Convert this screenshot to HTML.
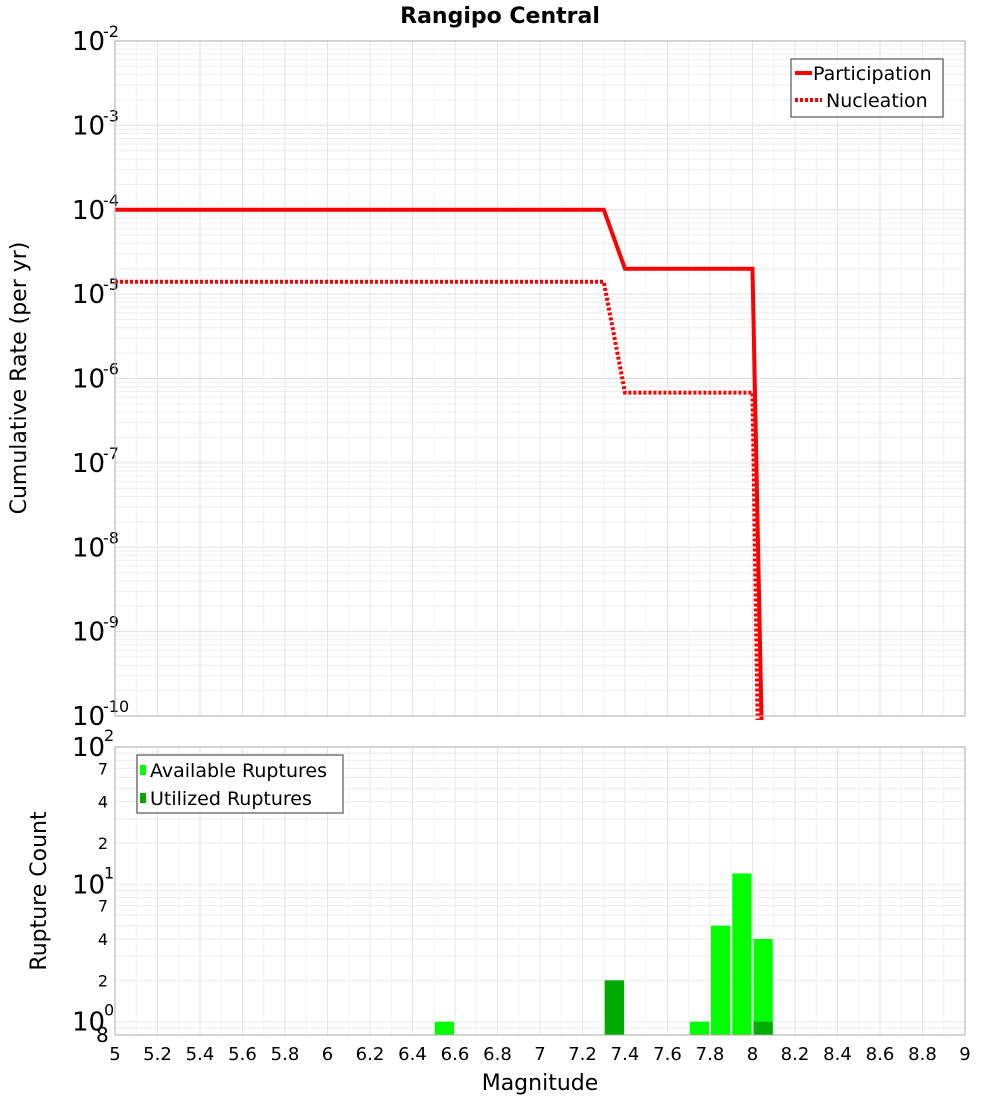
<!DOCTYPE html>
<html><head><meta charset="utf-8"><style>
body{margin:0;background:#fff;font-family:"Liberation Sans","DejaVu Sans",sans-serif}
svg text{font-family:"DejaVu Sans","Liberation Sans",sans-serif}
</style></head><body>
<svg id="c" width="1000" height="1100" xmlns="http://www.w3.org/2000/svg">
<text x="500" y="23" text-anchor="middle" font-size="22" font-weight="bold">Rangipo Central</text>
<g id="topg"></g>
<g id="botg"></g>
<text transform="translate(26,378) rotate(-90)" text-anchor="middle" font-size="22">Cumulative Rate (per yr)</text>
<text transform="translate(46,891) rotate(-90)" text-anchor="middle" font-size="22">Rupture Count</text>
<text x="540" y="1090" text-anchor="middle" font-size="22">Magnitude</text>
</svg>
<script>
const partMags=[5,7.3,7.4,8.0,8.05];
const partRates=[1e-4,1e-4,2e-5,2e-5,1e-11];
const nuclMags=[5,7.3,7.4,8.0,8.03];
const nuclRates=[1.4e-5,1.4e-5,6.8e-7,6.8e-7,1e-11];
const availMags=[6.55,7.35,7.75,7.85,7.95,8.05];
const availCounts=[1,2,1,5,12,4];
const usedMags=[7.35,8.05];
const usedCounts=[2,1];
const xTicks=[5,5.2,5.4,5.6,5.8,6,6.2,6.4,6.6,6.8,7,7.2,7.4,7.6,7.8,8,8.2,8.4,8.6,8.8,9];
const NS="http://www.w3.org/2000/svg";
const L=115,R=965,T1=41,B1=716,T2=747,B2=1035;
const X=m=>L+(m-5)/4*(R-L);
const Y1=v=>T1+(-2-Math.log10(v))/8*(B1-T1);
const lo2=Math.log10(0.8);
const Y2=v=>T2+(2-Math.log10(v))/(2-lo2)*(B2-T2);
function mk(p,t,a){const e=document.createElementNS(NS,t);for(const k in a)e.setAttribute(k,a[k]);p.appendChild(e);return e;}
const topG=document.getElementById('topg'),botG=document.getElementById('botg');
const defs=mk(document.getElementById('c'),'defs',{});
const cp=mk(defs,'clipPath',{id:'cl1'});mk(cp,'rect',{x:L,y:T1,width:R-L,height:B1-T1+4});
for(let d=-10;d<-2;d++)for(let k=1;k<10;k++){const y=Y1(k*Math.pow(10,d));const g=mk(topG,'line',{x1:L,x2:R,y1:y,y2:y,stroke:k==1?'#e0e0e0':'#eeeeee','stroke-width':1});}
for(let i=0;i<=40;i++){const x=X(5+i*0.1);const g=mk(topG,'line',{x1:x,x2:x,y1:T1,y2:B1,stroke:i%2?'#f2f2f2':'#e6e6e6'});}
for(let d=-1;d<2;d++)for(let k=1;k<10;k++){const v=k*Math.pow(10,d);if(v<0.8)continue;const y=Y2(v);const g=mk(botG,'line',{x1:L,x2:R,y1:y,y2:y,stroke:'#eaeaea'});}
for(let i=0;i<=40;i++){const x=X(5+i*0.1);const g=mk(botG,'line',{x1:x,x2:x,y1:T2,y2:B2,stroke:i%2?'#f2f2f2':'#e6e6e6'});}
for(let d=-10;d<=-2;d++){const y=Y1(Math.pow(10,d));const t=mk(topG,'text',{x:72,y:y+9,'font-size':26});t.textContent='10';const s=mk(topG,'text',{x:103,y:y-4,'font-size':16});s.textContent=String(d);}
for(let d=0;d<=2;d++){const y=Y2(Math.pow(10,d));const t=mk(botG,'text',{x:72,y:y+9,'font-size':26});t.textContent='10';const s=mk(botG,'text',{x:104,y:y-6,'font-size':16});s.textContent=String(d);}
[2,4,7,20,40,70].forEach(v=>{const t=mk(botG,'text',{x:108,y:Y2(v)+6,'font-size':16,'text-anchor':'end'});t.textContent=String(v<10?v:v/10);});
{const t=mk(botG,'text',{x:96,y:1042,'font-size':20});t.textContent='8';}
xTicks.forEach(m=>{const t=mk(botG,'text',{x:X(m),y:1060,'font-size':18,'text-anchor':'middle'});t.textContent=String(m);});
function bars(ms,cs,col,nm){ms.forEach((m,i)=>{const x0=X(m-0.05)+1,x1=X(m+0.05)-1,y=Y2(cs[i]);const r=mk(botG,'rect',{x:x0,y:y,width:x1-x0,height:B2-y,fill:col});});}
bars(availMags,availCounts,'#00ff00','bar-available');
bars(usedMags,usedCounts,'#00aa00','bar-utilized');
function drawLine(ms,vs,dash,nm){const p=mk(topG,'polyline',{points:ms.map((m,i)=>X(m)+','+Y1(vs[i])).join(' '),fill:'none',stroke:'#ff0000','stroke-width':4,'stroke-dasharray':dash,'clip-path':'url(#cl1)'});}
drawLine(nuclMags,nuclRates,'3,2','nucleation-line');
drawLine(partMags,partRates,'none','participation-line');
[[T1,B1],[T2,B2]].forEach(([a,b],i)=>{const r=mk(i?botG:topG,'rect',{x:L,y:a,width:R-L,height:b-a,fill:'none',stroke:'#aaaaaa'});});
const lg=mk(topG,'g',{});


mk(lg,'rect',{x:791,y:59,width:152,height:58,fill:'#fff',stroke:'#333'});
mk(lg,'line',{x1:795,x2:812,y1:73,y2:73,stroke:'#f00','stroke-width':4});
mk(lg,'line',{x1:795,x2:822,y1:100,y2:100,stroke:'#f00','stroke-width':4,'stroke-dasharray':'3,2'});
let t=mk(lg,'text',{x:813,y:80,'font-size':19});t.textContent='Participation';


t=mk(lg,'text',{x:826,y:107,'font-size':19});t.textContent='Nucleation';


const lg2=mk(botG,'g',{});


mk(lg2,'rect',{x:137,y:755,width:206,height:58,fill:'#fff',stroke:'#333'});
mk(lg2,'rect',{x:140,y:765,width:6,height:10,fill:'#00ff00'});
mk(lg2,'rect',{x:140,y:793,width:6,height:10,fill:'#00aa00'});
t=mk(lg2,'text',{x:150,y:777,'font-size':19});t.textContent='Available Ruptures';


t=mk(lg2,'text',{x:150,y:805,'font-size':19});t.textContent='Utilized Ruptures';


</script>
</body></html>
